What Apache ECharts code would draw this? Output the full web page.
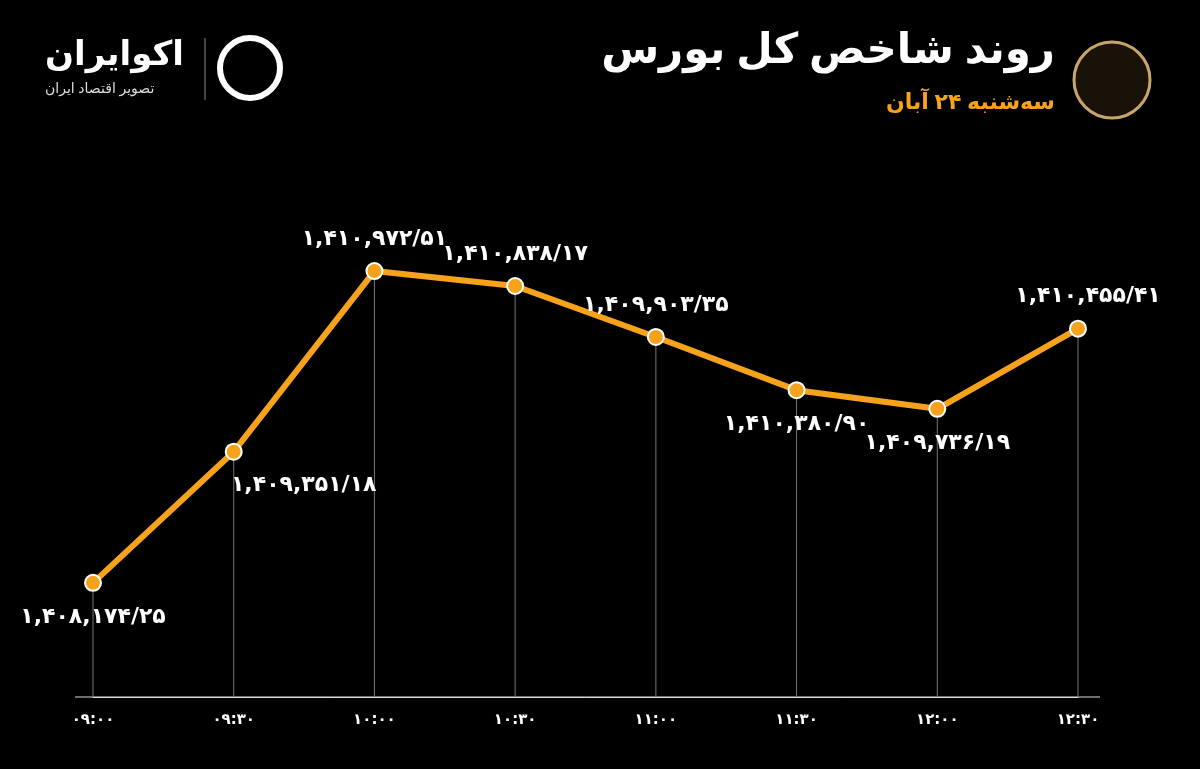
<!DOCTYPE html>
<html><head><meta charset="utf-8">
<script src="https://cdn.jsdelivr.net/npm/echarts@6/dist/echarts.min.js"></script>
<style>html,body{margin:0;background:#000}#c{width:1200px;height:769px}</style>
</head><body><div id="c"></div>
<script>
const categories = ['۰۹:۰۰','۰۹:۳۰','۱۰:۰۰','۱۰:۳۰','۱۱:۰۰','۱۱:۳۰','۱۲:۰۰','۱۲:۳۰'];
const values = [1408174.25, 1409351.18, 1410972.51, 1410838.17, 1410380.90, 1409903.35, 1409736.19, 1410455.41];
const labelTexts = ['۱,۴۰۸,۱۷۴/۲۵','۱,۴۰۹,۳۵۱/۱۸','۱,۴۱۰,۹۷۲/۵۱','۱,۴۱۰,۸۳۸/۱۷','۱,۴۰۹,۹۰۳/۳۵','۱,۴۱۰,۳۸۰/۹۰','۱,۴۰۹,۷۳۶/۱۹','۱,۴۱۰,۴۵۵/۴۱'];
const labelPos = ['bottom','bottom','top','top','top','bottom','bottom','top'];
const labelOff = [[0,4],[70,4],[0,-2],[0,-2],[0,-2],[0,4],[0,4],[10,-2]];

const chart = echarts.init(document.getElementById('c'));
const font = "'DejaVu Sans','Noto Sans',sans-serif";
chart.setOption({
  backgroundColor:'#000',
  animation:false,
  grid:{left:93,right:122,top:200,bottom:72},
  xAxis:{type:'category',data:categories,boundaryGap:false,
    axisLine:{lineStyle:{color:'#ddd',width:1}},axisTick:{show:false},
    axisLabel:{color:'#fff',fontWeight:'bold',fontSize:15,fontFamily:font,margin:16}},
  yAxis:{type:'value',min:1407150,max:1411610,show:false,splitLine:{show:false}},
  graphic:[
    {type:'line',shape:{x1:75,y1:697,x2:1100,y2:697},style:{stroke:'#ddd',lineWidth:1}},
    {type:'text',right:145,top:30,style:{text:'روند شاخص کل بورس',fill:'#fff',font:"bold 42px 'Noto Sans','DejaVu Sans'",textAlign:'right'}},
    {type:'text',right:145,top:92,style:{text:'سه‌شنبه ۲۴ آبان',fill:'#f7a21b',font:"bold 22px 'Noto Sans','DejaVu Sans'"}},
    {type:'circle',shape:{cx:1112,cy:80,r:38},style:{fill:'#1a1208',stroke:'#c8a56a',lineWidth:3}},
    {type:'text',left:45,top:38,style:{text:'اکوایران',fill:'#fff',font:"bold 34px 'Noto Sans','DejaVu Sans'"}},
    {type:'text',left:45,top:82,style:{text:'تصویر اقتصاد ایران',fill:'#ddd',font:"14px 'Noto Sans','DejaVu Sans'"}},
    {type:'line',shape:{x1:205,y1:38,x2:205,y2:100},style:{stroke:'#888',lineWidth:1}},
    {type:'circle',shape:{cx:250,cy:68,r:30},style:{fill:'none',stroke:'#fff',lineWidth:6}}
  ],
  series:[
    {type:'bar',data:values,barWidth:1,itemStyle:{color:'#777'},silent:true,z:1},
    {type:'line',data:values.map((v,i)=>({value:v,label:{position:labelPos[i],offset:labelOff[i],formatter:labelTexts[i]}})),
      lineStyle:{color:'#f7a21b',width:6},itemStyle:{color:'#f7a21b',borderColor:'#fff',borderWidth:2},
      symbol:'circle',symbolSize:16,z:3,
      label:{show:true,color:'#fff',fontWeight:'bold',fontSize:22,fontFamily:font,distance:10}}
  ]
});
</script></body></html>
